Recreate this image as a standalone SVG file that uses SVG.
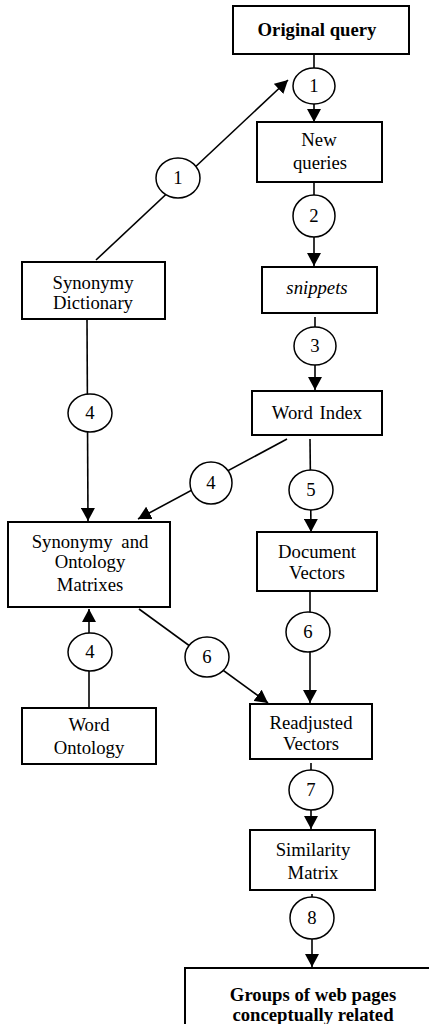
<svg xmlns="http://www.w3.org/2000/svg" width="429" height="1024" viewBox="0 0 429 1024">
<style>
.box{fill:#fff;stroke:#000;stroke-width:2}
.lbl{fill:#fff;stroke:#000;stroke-width:1.5}
.ln{stroke:#000;stroke-width:1.6;fill:none}
text{font-family:'Liberation Serif','Times New Roman',serif;font-size:18.7px;fill:#000;text-anchor:middle}
.b{font-weight:bold}
.i{font-style:italic}
</style>
<defs>
<marker id="ah" markerUnits="userSpaceOnUse" markerWidth="14" markerHeight="14" refX="13" refY="7" orient="auto">
<path d="M0,0 L13,7 L0,14 z" fill="#000"/>
</marker>
</defs>
<rect width="429" height="1024" fill="#fff"/>
<g id="connectors">
<line class="ln" x1="314" y1="54" x2="314" y2="68"/>
<line class="ln" x1="314" y1="104" x2="314" y2="122" marker-end="url(#ah)"/>
<line class="ln" x1="96" y1="260" x2="288" y2="80" marker-end="url(#ah)"/>
<line class="ln" x1="314" y1="182" x2="314" y2="195"/>
<line class="ln" x1="314" y1="237" x2="314" y2="266" marker-end="url(#ah)"/>
<line class="ln" x1="315" y1="317" x2="315" y2="327"/>
<line class="ln" x1="315" y1="365" x2="315" y2="390" marker-end="url(#ah)"/>
<line class="ln" x1="87" y1="319" x2="88" y2="521" marker-end="url(#ah)"/>
<line class="ln" x1="287" y1="439" x2="138" y2="519" marker-end="url(#ah)"/>
<line class="ln" x1="310" y1="439" x2="311" y2="532" marker-end="url(#ah)"/>
<line class="ln" x1="310" y1="591" x2="310" y2="703" marker-end="url(#ah)"/>
<line class="ln" x1="139" y1="609" x2="268" y2="703" marker-end="url(#ah)"/>
<line class="ln" x1="89" y1="708" x2="89" y2="609" marker-end="url(#ah)"/>
<line class="ln" x1="311" y1="763" x2="311" y2="829" marker-end="url(#ah)"/>
<line class="ln" x1="312" y1="894" x2="312" y2="967" marker-end="url(#ah)"/>
</g>
<g id="labels">
<ellipse class="lbl" cx="314" cy="86" rx="21" ry="18"/><text x="314" y="92">1</text>
<ellipse class="lbl" cx="178" cy="178" rx="22" ry="20"/><text x="178" y="184">1</text>
<ellipse class="lbl" cx="314" cy="216" rx="21" ry="21"/><text x="314" y="222">2</text>
<ellipse class="lbl" cx="315" cy="346" rx="21" ry="19"/><text x="315" y="352">3</text>
<ellipse class="lbl" cx="90" cy="413" rx="22" ry="19"/><text x="90" y="419">4</text>
<ellipse class="lbl" cx="211" cy="483" rx="21" ry="21"/><text x="211" y="489">4</text>
<ellipse class="lbl" cx="311" cy="490" rx="22" ry="20"/><text x="311" y="496">5</text>
<ellipse class="lbl" cx="90" cy="652" rx="22" ry="19"/><text x="90" y="658">4</text>
<ellipse class="lbl" cx="308" cy="632" rx="22" ry="20"/><text x="308" y="638">6</text>
<ellipse class="lbl" cx="207" cy="657" rx="22" ry="20"/><text x="207" y="663">6</text>
<ellipse class="lbl" cx="311" cy="790" rx="22" ry="20"/><text x="311" y="796">7</text>
<ellipse class="lbl" cx="312" cy="918" rx="22" ry="21"/><text x="312" y="924">8</text>
</g>
<g id="original-query"><rect class="box" x="233" y="6" width="176" height="48"/><text class="b" x="317" y="36">Original query</text></g>
<g id="new-queries"><rect class="box" x="257" y="122" width="125" height="60"/><text x="319" y="146">New</text><text x="320" y="169">queries</text></g>
<g id="snippets"><rect class="box" x="262" y="267" width="115" height="46"/><text class="i" x="317" y="294">snippets</text></g>
<g id="word-index"><rect class="box" x="252" y="391" width="130" height="44"/><text x="317" y="419" word-spacing="2">Word Index</text></g>
<g id="synonymy-dictionary"><rect class="box" x="22" y="262" width="143" height="57"/><text x="93" y="289">Synonymy</text><text x="93" y="309">Dictionary</text></g>
<g id="matrixes"><rect class="box" x="8" y="522" width="162" height="85"/><text x="90" y="548" word-spacing="4">Synonymy and</text><text x="90" y="568">Ontology</text><text x="90" y="591">Matrixes</text></g>
<g id="document-vectors"><rect class="box" x="257" y="532" width="120" height="59"/><text x="317" y="558">Document</text><text x="317" y="579">Vectors</text></g>
<g id="readjusted-vectors"><rect class="box" x="250" y="704" width="122" height="55"/><text x="311" y="729">Readjusted</text><text x="311" y="750">Vectors</text></g>
<g id="word-ontology"><rect class="box" x="22" y="708" width="134" height="56"/><text x="89" y="731">Word</text><text x="89" y="754">Ontology</text></g>
<g id="similarity-matrix"><rect class="box" x="250" y="830" width="125" height="60"/><text x="313" y="856">Similarity</text><text x="313" y="879">Matrix</text></g>
<g id="groups"><rect class="box" x="185" y="968" width="260" height="80"/><text class="b" x="313" y="1001">Groups of web pages</text><text class="b" x="313" y="1021">conceptually related</text></g>
</svg>
